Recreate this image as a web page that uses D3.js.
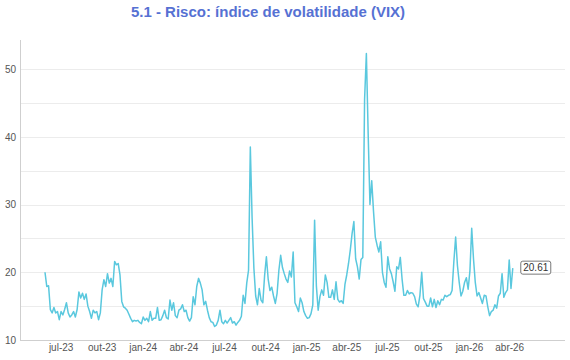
<!DOCTYPE html>
<html><head><meta charset="utf-8">
<script src="https://cdn.jsdelivr.net/npm/d3@7"></script>
<style>
body{margin:0;background:#fff}
text{font-family:"Liberation Sans",Arial,Helvetica,sans-serif}
</style>
</head><body>
<svg id="chart" width="570" height="360"></svg>
<script>
const title = "5.1 - Risco: índice de volatilidade (VIX)";
const startDate = "2023-05-27";
const stepDays = 4;
const values = [
20.0,17.9,18.0,14.5,14.0,14.8,14.0,14.2,13.0,14.2,
13.7,14.5,15.5,14.0,13.4,13.7,14.2,13.4,14.5,17.1,
16.2,16.9,16.0,16.8,15.0,14.2,13.2,14.4,14.0,14.2,
13.0,14.0,17.4,18.9,17.9,19.8,18.4,19.1,17.9,21.6,
21.1,21.3,19.6,15.7,14.9,14.7,14.4,13.8,13.2,12.7,
12.9,12.8,12.9,12.6,12.4,13.4,12.9,13.2,12.7,14.2,
12.9,13.2,13.2,14.8,12.9,13.0,13.6,14.4,13.3,13.1,
15.9,14.4,15.5,13.6,13.3,14.4,14.6,15.2,14.2,14.4,
13.3,12.8,13.3,16.4,15.2,17.9,19.1,18.4,17.4,15.2,
15.7,14.4,13.3,12.7,12.6,12.0,12.2,12.9,14.4,12.7,
12.4,12.9,12.5,12.9,13.3,12.5,12.7,12.2,12.6,12.9,
13.5,16.6,15.4,18.4,20.3,38.5,28.0,20.6,16.5,15.2,
17.6,15.9,15.5,19.5,22.3,19.0,17.3,17.8,16.5,15.4,
16.9,20.3,22.5,20.7,19.8,19.0,18.5,20.2,19.3,23.0,
15.5,14.9,14.2,16.2,15.5,14.2,13.6,13.2,13.3,13.9,
15.2,27.7,18.0,14.4,16.4,17.4,16.6,19.6,18.5,16.3,
16.3,17.4,16.0,18.6,16.0,15.6,15.8,15.4,18.2,19.6,
21.3,23.3,25.7,27.5,22.0,20.8,19.0,21.9,22.2,45.5,
52.3,40.5,30.0,33.5,29.0,25.2,24.0,23.0,24.5,20.0,
18.5,17.8,22.3,20.5,19.8,18.6,17.2,20.8,20.5,22.2,
19.0,16.6,16.6,17.3,16.8,17.0,16.9,16.4,15.3,14.9,
16.6,20.0,16.1,15.6,15.0,15.0,16.2,14.9,16.0,14.8,
15.8,15.2,16.0,15.9,16.6,16.4,16.6,16.7,17.3,21.6,
25.2,21.0,18.5,16.5,17.2,18.5,19.2,17.5,20.2,26.5,
22.0,18.5,16.5,17.0,16.2,15.4,16.6,16.5,14.9,13.6,
14.2,14.4,15.2,14.7,16.5,16.9,19.8,16.3,17.0,17.4,
21.8,17.6,20.61
];
const yTickValues = [10, 20, 30, 40, 50];
const gridValues = [15, 20, 25, 30, 35, 40, 45, 50];
const yDomain = [10, 54.3];
const monthNames = ["jan","fev","mar","abr","mai","jun","jul","ago","set","out","nov","dez"];
const xDomain = ["2023-04-01", "2026-08-04"];
const tickSpan = ["2023-07-01", "2026-04-02"];

const M = {left: 20, right: 565, top: 40, bottom: 340};

const parse = d3.timeParse("%Y-%m-%d");
const t0 = parse(startDate);
const data = values.map((v, i) => ({date: d3.timeDay.offset(t0, i * stepDays), value: v}));

const x = d3.scaleTime().domain(xDomain.map(parse)).range([M.left, M.right]);
const y = d3.scaleLinear().domain(yDomain).range([M.bottom, M.top]);

const svg = d3.select("#chart");

svg.append("text")
  .attr("x", 268).attr("y", 17)
  .attr("text-anchor", "middle")
  .attr("font-size", 15).attr("font-weight", "bold")
  .attr("fill", "#5671d3")
  .text(title);

svg.append("g").selectAll("line").data(gridValues).join("line")
  .attr("x1", M.left).attr("x2", M.right)
  .attr("y1", d => Math.round(y(d)) + 0.5).attr("y2", d => Math.round(y(d)) + 0.5)
  .attr("stroke", "#ececec").attr("stroke-width", 1);

svg.append("line").attr("x1", M.left + 0.5).attr("x2", M.left + 0.5).attr("y1", M.top).attr("y2", M.bottom + 0.5)
  .attr("stroke", "#cfcfcf");
svg.append("line").attr("x1", M.left).attr("x2", M.right).attr("y1", M.bottom + 0.5).attr("y2", M.bottom + 0.5)
  .attr("stroke", "#cfcfcf");

const ya = svg.append("g").attr("transform", `translate(${M.left},0)`)
  .call(d3.axisLeft(y).tickValues(yTickValues).tickSize(0).tickPadding(4));
ya.select(".domain").remove();
ya.selectAll("text").attr("font-size", 10).attr("fill", "#555").attr("font-family", null);

const fmt = d => monthNames[d.getMonth()] + "-" + String(d.getFullYear()).slice(2);
const xa = svg.append("g").attr("transform", `translate(0,${M.bottom})`)
  .call(d3.axisBottom(x)
    .tickValues(d3.timeMonth.every(3).range(parse(tickSpan[0]), parse(tickSpan[1])))
    .tickFormat(fmt).tickSize(0).tickPadding(4));
xa.select(".domain").remove();
xa.selectAll("text").attr("font-size", 10).attr("fill", "#555").attr("font-family", null);

const line = d3.line().x(d => x(d.date)).y(d => y(d.value));
svg.append("path").datum(data)
  .attr("d", line)
  .attr("fill", "none")
  .attr("stroke", "#5ac8de")
  .attr("stroke-width", 1.5)
  .attr("stroke-linejoin", "round");

const last = data[data.length - 1];
const lx = x(last.date) + 8, ly = y(last.value);
const lg = svg.append("g");
lg.append("rect")
  .attr("x", lx).attr("y", ly - 7)
  .attr("width", 30).attr("height", 13).attr("rx", 2)
  .attr("fill", "#fff").attr("stroke", "#555").attr("stroke-width", 0.8);
lg.append("text")
  .attr("x", lx + 15).attr("y", ly - 0.5)
  .attr("dy", "0.35em")
  .attr("text-anchor", "middle")
  .attr("font-size", 10).attr("fill", "#333")
  .text(last.value.toFixed(2));
</script>
</body></html>
